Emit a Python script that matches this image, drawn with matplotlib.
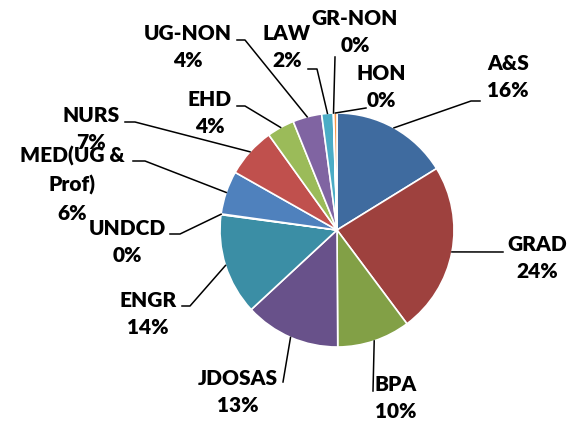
import numpy as np
import matplotlib.pyplot as plt

W, H = 568, 426

names = ['A&S', 'GRAD', 'BPA', 'JDOSAS', 'ENGR', 'UNDCD', 'MED(UG &\nProf)',
         'NURS', 'EHD', 'UG-NON', 'LAW', 'GR-NON', 'HON']
shares = [16.2, 23.6, 10.1, 13.2, 14.0, 0.1, 6.0, 6.9, 3.8, 4.0, 1.6, 0.05, 0.45]
colors = ['#3F6B9F', '#9E413E', '#82A046', '#68518A', '#3B8EA5', '#C8742A',
          '#4F81BD', '#C0504D', '#9BBB59', '#8064A2', '#4BACC6', '#E07E2A',
          '#F79646']

# label centres and leader line start / elbow, pixels from top-left
label_xy = [(508, 77), (537, 258), (396, 398), (238, 392), (148, 314),
            (127, 242), (72, 184), (91, 129), (210, 113), (188, 47),
            (287, 47), (355, 32), (381, 87)]
leader = [((480, 101), (471, 101)), ((503, 252), (503, 252)),
          ((373, 391), (373, 391)), ((283, 382), (283, 382)),
          ((182, 306), (190, 306)), ((170, 234), (180, 234)),
          ((133, 161), (145, 161)), ((125, 122), (135, 122)),
          ((237, 106), (245, 106)), ((237, 40), (245, 40)),
          ((308, 69), (317, 69)), ((335, 57), (335, 57)),
          ((366, 108), (366, 108))]

center = (337, H - 230)
radius = 117


def px(p):
    return p[0], H - p[1]


def main():
    fig = plt.figure(figsize=(W / 100, H / 100), dpi=100)
    ax = fig.add_axes([0, 0, 1, 1])

    wedges, _ = ax.pie(shares, colors=colors, startangle=90, counterclock=False,
                       center=center, radius=radius,
                       wedgeprops=dict(edgecolor='white', linewidth=1.2))
    ax.set_xlim(0, W)
    ax.set_ylim(0, H)
    ax.set_aspect('equal')
    ax.axis('off')

    total = sum(shares)
    for w, name, v, pos, (start, elbow) in zip(wedges, names, shares, label_xy, leader):
        mid = np.deg2rad((w.theta1 + w.theta2) / 2)
        end = (center[0] + radius * np.cos(mid), center[1] + radius * np.sin(mid))
        xs, ys = zip(px(start), px(elbow), end)
        ax.plot(xs, ys, color='black', lw=1.1, zorder=5)
        ax.text(*px(pos), f'{name}\n{v / total * 100:.0f}%', ha='center', va='center',
                fontsize=15, fontweight='heavy', family='Lato', linespacing=1.55,
                zorder=6)

    fig.savefig('out.png', dpi=100)


if __name__ == '__main__':
    main()
